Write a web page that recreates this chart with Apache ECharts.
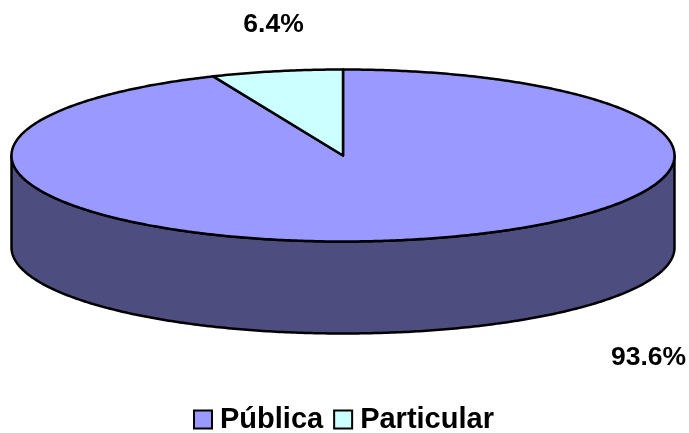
<!DOCTYPE html>
<html>
<head>
<meta charset="utf-8">
<style>
  html, body { margin: 0; padding: 0; background: #fff; }
  #chart { width: 689px; height: 433px; }
</style>
<script src="https://cdn.jsdelivr.net/npm/echarts@6/dist/echarts.min.js"></script>
</head>
<body>
<div id="chart"></div>
<script>
const categories = ['Pública', 'Particular']
const shares = [93.6, 6.4]
const colors = ['#9999ff', '#ccffff']
const wallColor = '#4d4d80'

const total = shares.reduce((a, b) => a + b, 0)
const font = 'Liberation Sans'

// ellipse of the top face, in pixels
const cx = 343
const cy = 155.5
const rx = 331.5
const ry = 86
const depth = 92

// where the percent labels sit
const labelPos = [[648.5, 358], [273.5, 25]]

// t is clockwise from 12 o'clock
function ellipsePoint(t, dy) {
  return [cx + rx * Math.sin(t), cy + (dy || 0) - ry * Math.cos(t)]
}

function arcPoints(from, to, dy) {
  const steps = Math.max(2, Math.ceil(Math.abs(to - from) / 0.01))
  const pts = []
  for (let i = 0; i <= steps; i++) {
    pts.push(ellipsePoint(from + ((to - from) * i) / steps, dy))
  }
  return pts
}

function makeSeries(name, index) {
  return {
    type: 'custom',
    name: name,
    coordinateSystem: 'none',
    silent: true,
    itemStyle: { color: colors[index], borderColor: '#000', borderWidth: 2.5 },
    data: [[shares[index]]],
    renderItem: (params, api) => {
      const start = (shares.slice(0, index).reduce((a, b) => a + b, 0) / total) * Math.PI * 2
      const end = start + (api.value(0) / total) * Math.PI * 2
      const lineStyle = { stroke: '#000', lineWidth: 2.5, lineJoin: 'round' }
      const children = []

      // front wall, only the part of the slice facing the viewer
      const wallFrom = Math.max(start, Math.PI / 2)
      const wallTo = Math.min(end, (Math.PI * 3) / 2)
      if (wallTo > wallFrom) {
        children.push({
          type: 'polygon',
          shape: {
            points: arcPoints(wallFrom, wallTo, 0).concat(arcPoints(wallTo, wallFrom, depth))
          },
          style: { fill: wallColor, ...lineStyle }
        })
      }

      // top face
      children.push({
        type: 'polygon',
        shape: { points: [[cx, cy]].concat(arcPoints(start, end, 0)) },
        style: { fill: colors[index], ...lineStyle }
      })

      children.push({
        type: 'text',
        x: labelPos[index][0],
        y: labelPos[index][1],
        style: {
          text: api.value(0).toFixed(1) + '%',
          fill: '#000',
          font: 'bold 26.5px "' + font + '"',
          align: 'center',
          verticalAlign: 'middle'
        }
      })
      return { type: 'group', children: children }
    }
  }
}

const chart = echarts.init(document.getElementById('chart'))
chart.setOption({
  animation: false,
  backgroundColor: '#fff',
  legend: {
    left: 193,
    top: 405,
    padding: 0,
    icon: 'rect',
    itemWidth: 18,
    itemHeight: 18,
    itemGap: 10,
    selectedMode: false,
    data: categories,
    textStyle: {
      color: '#000',
      fontFamily: font,
      fontWeight: 'bold',
      fontSize: 29,
      padding: [2, 0, 0, 3]
    }
  },
  series: categories.map(makeSeries)
})
</script>
</body>
</html>
